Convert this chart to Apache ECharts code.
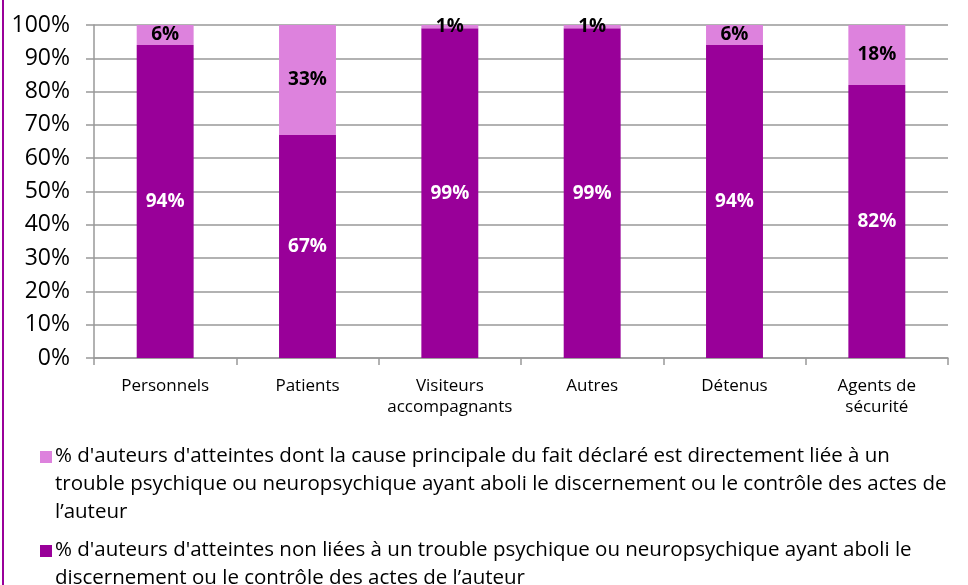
<!DOCTYPE html>
<html><head><meta charset="utf-8">
<script src="https://cdn.jsdelivr.net/npm/echarts@6/dist/echarts.min.js"></script>
<style>html,body{margin:0;padding:0;background:#fff}#c{width:968px;height:585px}</style>
</head><body><div id="c"></div>
<script>
var categories = ['Personnels', 'Patients', 'Visiteurs\naccompagnants', 'Autres', 'Détenus', 'Agents de\nsécurité'];
var nonLiees = [94, 67, 99, 99, 94, 82];
var liees = [6, 33, 1, 1, 6, 18];
var yTicks = [0, 10, 20, 30, 40, 50, 60, 70, 80, 90, 100];
var nameLiees = "% d'auteurs d'atteintes dont la cause principale du fait déclaré est directement liée à un\ntrouble psychique ou neuropsychique ayant aboli le discernement ou le contrôle des actes de\nl’auteur";
var nameNon = "% d'auteurs d'atteintes non liées à un trouble psychique ou neuropsychique ayant aboli le\ndiscernement ou le contrôle des actes de l’auteur";
var dark = '#990099', light = '#DD82DD';
var font = 'Open Sans';
var chart = echarts.init(document.getElementById('c'), null, {renderer: 'canvas'});
chart.setOption({
  animation: false,
  textStyle: {fontFamily: font},
  grid: {left: 94, right: 20, top: 25, bottom: 227},
  xAxis: {
    type: 'category', data: categories,
    axisLine: {lineStyle: {color: '#999', width: 1.5}},
    axisTick: {show: true, length: 7, lineStyle: {color: '#999', width: 1.5}},
    axisLabel: {color: '#000', fontSize: 17, margin: 18, lineHeight: 21, fontFamily: font, interval: 0}
  },
  yAxis: {
    type: 'value', min: 0, max: 100, interval: 10,
    axisLine: {show: true, lineStyle: {color: '#999', width: 1.5}},
    axisTick: {show: true, length: 8, lineStyle: {color: '#999', width: 1.5}},
    splitLine: {lineStyle: {color: '#999', width: 1.5}},
    axisLabel: {color: '#000', fontSize: 23, margin: 24, fontFamily: font,
      formatter: function (v) { return yTicks.indexOf(v) >= 0 ? v + '%' : ''; }}
  },
  series: [
    {name: nameNon, type: 'bar', stack: 's', data: nonLiees, barWidth: '40%',
     itemStyle: {color: dark},
     label: {show: true, position: 'inside', color: '#fff', fontWeight: 'bold', fontSize: 19, fontFamily: font,
       formatter: function (p) { return p.value + '%'; }}},
    {name: nameLiees, type: 'bar', stack: 's', data: liees, barWidth: '40%',
     itemStyle: {color: light},
     label: {show: true, position: 'inside', color: '#000', fontWeight: 'bold', fontSize: 19, fontFamily: font,
       formatter: function (p) { return p.value + '%'; }}}
  ],
  graphic: [
    {type: 'line', shape: {x1: 3, y1: 0, x2: 3, y2: 585}, style: {stroke: '#990099', lineWidth: 2}},
    {type: 'rect', shape: {x: 40, y: 451, width: 12, height: 12}, style: {fill: light}},
    {type: 'text', left: 55, top: 442, style: {text: nameLiees, font: '20.5px "Open Sans"', fill: '#000', lineHeight: 28}},
    {type: 'rect', shape: {x: 40, y: 545, width: 12, height: 12}, style: {fill: dark}},
    {type: 'text', left: 55, top: 536, style: {text: nameNon, font: '20.5px "Open Sans"', fill: '#000', lineHeight: 28}}
  ]
});
</script></body></html>
